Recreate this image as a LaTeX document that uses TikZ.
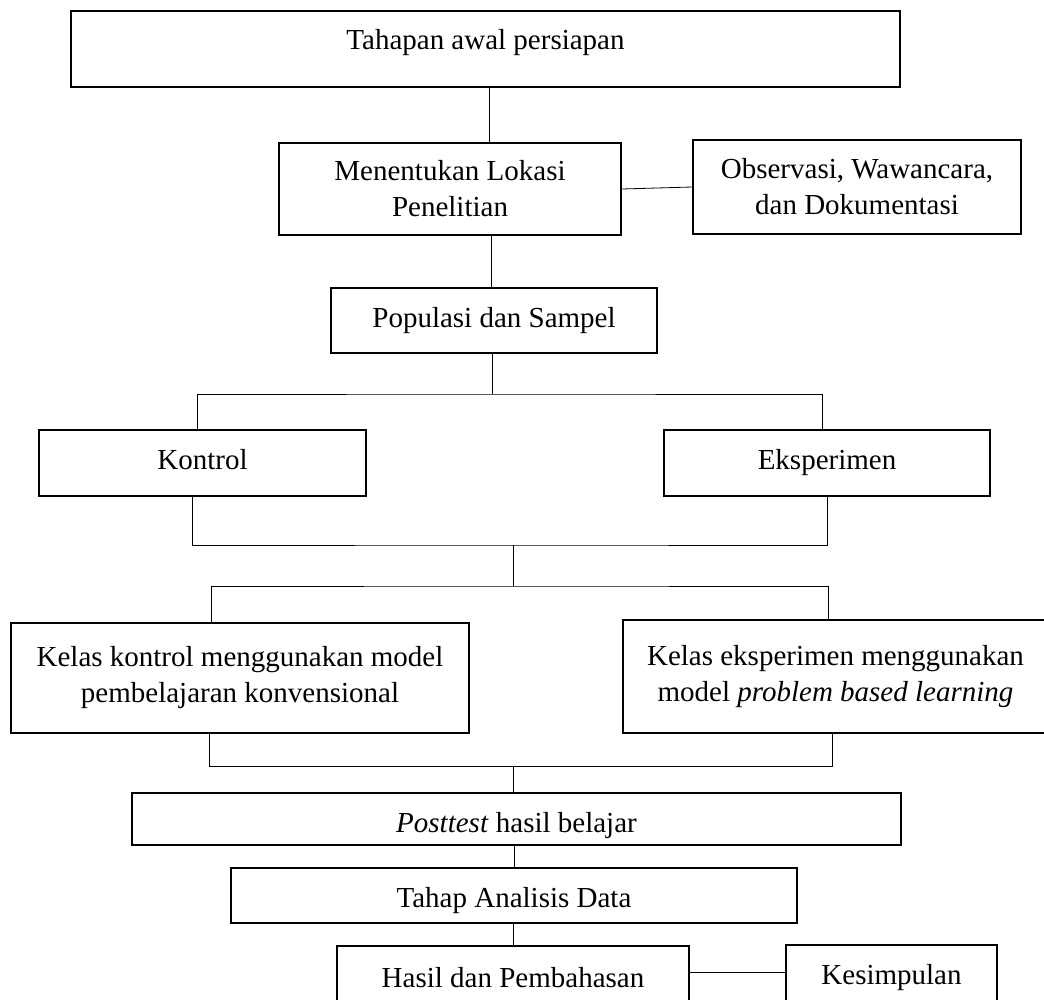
\documentclass[tikz,border=0pt]{standalone}
\usepackage{fontspec}
\setmainfont{Liberation Serif}

\begin{document}
\begin{tikzpicture}[x=1pt,y=-1pt,
        box/.style={shape=rectangle,draw=black,line width=1.6pt,inner sep=0pt,align=center,font=\fontsize{29}{36}\selectfont},
        conn/.style={draw=black,line width=0.8pt}]
        \useasboundingbox (0,0) rectangle (1044,999);
        \clip (0,0) rectangle (1044,999);
        % boxes
        \node [box,minimum width=829pt,minimum height=76pt,text height=19pt,text depth=19pt] (awal) at (485.5,49) {Tahapan awal persiapan};
        \node [box,minimum width=342pt,minimum height=92pt] (lokasi) at (450,189) {Menentukan Lokasi\\Penelitian};
        \node [box,minimum width=328pt,minimum height=94pt] (obs) at (857,187) {Observasi, Wawancara,\\dan Dokumentasi};
        \node [box,minimum width=326pt,minimum height=65pt] (populasi) at (494,320.5) {Populasi dan Sampel};
        \node [box,minimum width=327pt,minimum height=66pt,text height=18pt,text depth=6pt] (kontrol) at (202.5,463) {Kontrol};
        \node [box,minimum width=326pt,minimum height=66pt] (eksperimen) at (827,463) {Eksperimen};
        \node [box,minimum width=458pt,minimum height=110pt] (kelaskontrol) at (240,678) {Kelas kontrol menggunakan model\\pembelajaran konvensional};
        \node [box,minimum width=425pt,minimum height=113pt] (kelaseksp) at (835.5,676.5) {Kelas eksperimen menggunakan\\model \textit{problem based learning}};
        \node [box,minimum width=769pt,minimum height=52pt,text height=32pt,text depth=6pt] (posttest) at (516.5,819) {\textit{Posttest} hasil belajar};
        \node [box,minimum width=566pt,minimum height=55pt,text height=29pt,text depth=6pt] (analisis) at (514,895.5) {Tahap Analisis Data};
        \node [box,minimum width=352pt,minimum height=64pt] (hasil) at (513,978) {Hasil dan Pembahasan};
        \node [box,minimum width=211pt,minimum height=65pt] (kesimpulan) at (891.5,977.5) {Kesimpulan};
        % junctions
        \coordinate (split1) at (492,394);
        \coordinate (join1) at (513,545);
        \coordinate (split2) at (513,586);
        \coordinate (join2) at (513,766);
        % connectors
        \draw [conn] ([xshift=3.5pt]awal.south) -- ([xshift=3.5pt]awal.south |- lokasi.north);
        \draw [conn] (lokasi.east) -- (obs.west);
        \draw [conn] ([xshift=-3pt]populasi.north) -- ([xshift=-3pt]populasi.north |- lokasi.south);
        \draw [conn] (split1 |- populasi.south) -- (split1);
        \draw [conn] ([xshift=-5.5pt]kontrol.north) |- (split1) -| ([xshift=-5pt]eksperimen.north);
        \draw [conn] ([xshift=-10.5pt]kontrol.south) |- (join1) -| (eksperimen.south);
        \draw [conn] (join1) -- (split2);
        \draw [conn] ([xshift=-29pt]kelaskontrol.north) |- (split2) -| ([xshift=-7.5pt]kelaseksp.north);
        \draw [conn] ([xshift=-31pt]kelaskontrol.south) |- (join2) -| ([xshift=-3.5pt]kelaseksp.south);
        \draw [conn] (join2) -- (join2 |- posttest.north);
        \draw [conn] (analisis.north) -- (analisis.north |- posttest.south);
        \draw [conn] (hasil.north) -- (hasil.north |- analisis.south);
        \draw [conn] ([yshift=6pt]hasil.east) -- ([yshift=6pt]hasil.east -| kesimpulan.west);
\end{tikzpicture}
\end{document}
